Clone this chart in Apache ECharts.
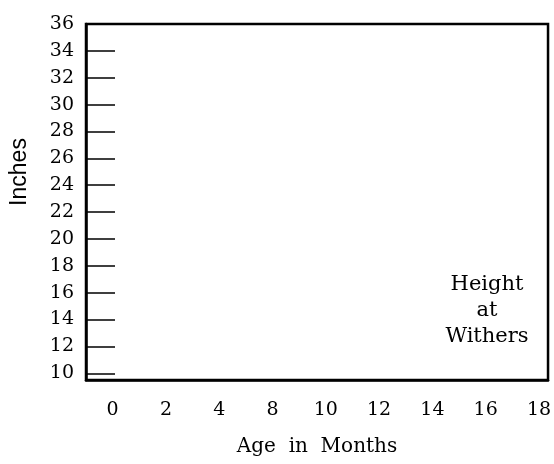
<!DOCTYPE html>
<html>
<head>
<meta charset="utf-8">
<script src="https://cdn.jsdelivr.net/npm/echarts@6/dist/echarts.min.js"></script>
<style>
  html, body { margin: 0; padding: 0; background: #fff; }
  #chart { width: 554px; height: 464px; }
</style>
</head>
<body>
<div id="chart"></div>
<script>
// x labels (age in months) - note there is no 6 on the original
const ageLabels = ['0', '2', '4', '8', '10', '12', '14', '16', '18'];
// y labels (inches)
const inchLabels = [10, 12, 14, 16, 18, 20, 22, 24, 26, 28, 30, 32, 34, 36];
// tick marks on the left axis (none at 36, the frame is there)
const inchTicks = [10, 12, 14, 16, 18, 20, 22, 24, 26, 28, 30, 32, 34];
const noteText = ['Height', 'at', 'Withers'];

const serif = '"DejaVu Serif", serif';

let myChart = echarts.init(document.getElementById('chart'));

let option = {
  backgroundColor: '#fff',
  animation: false,
  grid: {
    left: 83, top: 24, right: 3, bottom: 84,
    show: true,
    borderColor: '#000',
    borderWidth: 2.5
  },
  xAxis: {
    type: 'value',
    min: -0.5,
    max: 8.17,
    name: 'Age  in  Months',
    nameLocation: 'middle',
    nameGap: 57,
    nameTextStyle: { fontFamily: serif, fontSize: 20, color: '#000' },
    axisLine: { show: true, onZero: false, lineStyle: { color: '#000', width: 2.5 } },
    axisTick: { show: false },
    splitLine: { show: false },
    axisLabel: {
      customValues: ageLabels.map((_, i) => i),
      formatter: v => ageLabels[v],
      margin: 21,
      fontFamily: serif,
      fontSize: 19,
      color: '#000'
    }
  },
  yAxis: {
    type: 'value',
    min: 9.5,
    max: 36,
    name: 'Inches',
    nameLocation: 'middle',
    nameRotate: 90,
    nameGap: 55,
    nameTextStyle: {
      fontFamily: '"Liberation Sans", Arial, sans-serif',
      fontSize: 23,
      color: '#000',
      padding: [0, 0, 0, 60]
    },
    axisLine: { show: true, onZero: false, lineStyle: { color: '#000', width: 2.5 } },
    axisTick: {
      show: true,
      inside: true,
      length: 29,
      customValues: inchTicks,
      lineStyle: { color: '#000', width: 1.5 }
    },
    splitLine: { show: false },
    axisLabel: {
      customValues: inchLabels,
      margin: 12,
      padding: [0, 0, 10, 0],
      fontFamily: serif,
      fontSize: 19,
      color: '#000'
    }
  },
  graphic: [
    {
      type: 'text',
      x: 487,
      y: 272,
      style: {
        text: noteText.join('\n'),
        fontFamily: serif,
        fontSize: 21,
        lineHeight: 26,
        align: 'center',
        fill: '#000'
      }
    }
  ],
  series: []
};

myChart.setOption(option, true);
</script>
</body>
</html>
